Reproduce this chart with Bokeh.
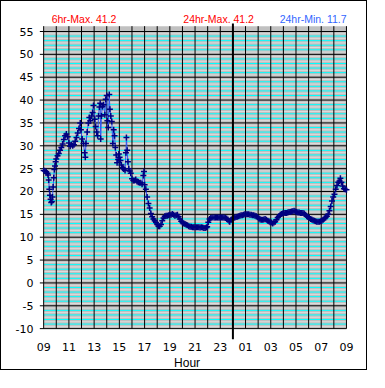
from bokeh.plotting import figure
from bokeh.models import Range1d
from bokeh.core.properties import value
from bokeh.embed import file_html
from bokeh.resources import INLINE

# hours after 09:00
hours = [0.00, 0.10, 0.20, 0.30, 0.35, 0.40, 0.45, 0.50, 0.55, 0.60, 0.65, 0.70, 0.75, 0.80, 0.85, 0.90, 0.95,
         1.00, 1.10, 1.20, 1.30, 1.40, 1.50, 1.60, 1.70, 1.80, 1.90, 2.00, 2.10, 2.20, 2.30, 2.40, 2.50, 2.60,
         2.70, 2.80, 2.90, 2.95, 3.05, 3.15, 3.25, 3.30, 3.35, 3.45, 3.55, 3.62, 3.70, 3.80, 3.88, 3.95, 4.05,
         4.12, 4.20, 4.28, 4.35, 4.42, 4.48, 4.52, 4.58, 4.65, 4.75, 4.85, 4.92, 5.00, 5.05, 5.12, 5.20, 5.25,
         5.32, 5.40, 5.48, 5.55, 5.62, 5.68, 5.75, 5.82, 5.90, 5.96, 6.02, 6.09, 6.16, 6.25, 6.35, 6.45, 6.52,
         6.56, 6.62, 6.68, 6.75, 6.82, 6.90, 7.00, 7.10, 7.20, 7.30, 7.40, 7.50, 7.60, 7.70, 7.80, 7.90, 7.95,
         8.00, 8.10, 8.20, 8.30, 8.40, 8.50, 8.60, 8.70, 8.80, 8.90, 9.00, 9.10, 9.20, 9.30, 9.40, 9.50, 9.60,
         9.70, 9.80, 9.90, 10.00, 10.10, 10.20, 10.30, 10.40, 10.50, 10.60, 10.70, 10.80, 10.90, 11.00, 11.10,
         11.20, 11.30, 11.40, 11.50, 11.60, 11.70, 11.80, 11.90, 12.00, 12.10, 12.20, 12.30, 12.40, 12.50,
         12.60, 12.70, 12.80, 12.90, 12.96, 13.05, 13.15, 13.25, 13.35, 13.50, 13.60, 13.70, 13.80, 13.90,
         14.00, 14.10, 14.20, 14.30, 14.40, 14.50, 14.60, 14.70, 14.75, 14.85, 14.95, 15.05, 15.15, 15.25,
         15.35, 15.45, 15.55, 15.65, 15.75, 15.85, 15.95, 16.05, 16.15, 16.25, 16.35, 16.45, 16.55, 16.65,
         16.75, 16.85, 16.95, 17.05, 17.15, 17.25, 17.35, 17.45, 17.55, 17.65, 17.75, 17.85, 17.95, 18.05,
         18.15, 18.25, 18.35, 18.45, 18.55, 18.65, 18.75, 18.85, 18.95, 19.05, 19.15, 19.25, 19.35, 19.45,
         19.55, 19.65, 19.75, 19.85, 19.95, 20.05, 20.15, 20.25, 20.35, 20.45, 20.55, 20.65, 20.75, 20.85,
         20.95, 21.05, 21.15, 21.25, 21.35, 21.45, 21.55, 21.65, 21.75, 21.85, 21.95, 22.05, 22.15, 22.25,
         22.35, 22.45, 22.55, 22.65, 22.75, 22.85, 22.95, 23.05, 23.15, 23.25, 23.35, 23.45, 23.52, 23.60,
         23.70, 23.80, 23.90, 24.00]

temps = [24.6, 24.5, 24.3, 24.0, 23.6, 22.5, 20.5, 19.2, 18.3, 17.6, 17.8, 18.8, 21.0, 23.0, 24.8, 25.6, 26.5,
         27.1, 27.8, 28.3, 29.0, 29.6, 30.4, 31.4, 32.2, 32.6, 32.0, 30.6, 29.9, 30.3, 30.0, 30.2, 31.0, 31.8,
         32.8, 33.8, 35.0, 33.5, 31.5, 30.5, 28.5, 27.5, 30.5, 33.0, 35.0, 36.2, 35.5, 36.5, 37.3, 38.8, 35.8,
         34.2, 33.0, 32.2, 36.5, 38.5, 39.3, 31.5, 36.5, 38.6, 39.0, 36.8, 40.2, 41.0, 35.5, 34.0, 41.2, 38.0,
         36.5, 35.3, 30.5, 33.5, 32.2, 29.6, 28.0, 26.3, 27.0, 28.2, 27.5, 26.8, 25.8, 25.2, 24.9, 24.6, 28.5,
         31.8, 29.0, 26.5, 25.0, 24.5, 24.0, 22.8, 22.4, 22.4, 22.6, 22.2, 22.0, 21.9, 21.9, 21.6, 23.5, 24.4,
         21.5, 20.5, 18.8, 17.4, 16.4, 15.2, 14.5, 14.0, 13.6, 13.2, 12.8, 12.4, 12.4, 12.8, 13.6, 14.2, 14.6,
         14.7, 14.7, 14.8, 14.9, 14.9, 15.1, 14.9, 14.7, 14.8, 14.9, 14.5, 14.0, 13.5, 13.2, 13.0,
         12.9, 12.7, 12.6, 12.4, 12.3, 12.3, 12.2, 12.2, 12.2, 12.2, 12.2, 12.2, 12.1, 12.2,
         12.1, 12.0, 12.0, 12.1, 12.3, 13.3, 14.0, 14.2, 14.3, 14.3, 14.3, 14.3, 14.3, 14.3,
         14.3, 14.3, 14.3, 14.3, 14.2, 14.1, 13.9, 13.5, 13.4, 13.8, 14.0, 14.2, 14.3, 14.4,
         14.5, 14.6, 14.7, 14.8, 14.8, 14.9, 15.0, 15.0, 15.0, 15.0, 14.9, 14.9, 14.8, 14.8,
         14.7, 14.6, 14.4, 14.1, 13.9, 13.8, 13.8, 13.9, 14.0, 13.8, 13.6, 13.5, 13.3, 13.2,
         13.0, 13.2, 13.4, 13.8, 14.3, 14.6, 14.9, 15.1, 15.2, 15.3, 15.3, 15.3, 15.4, 15.5,
         15.5, 15.6, 15.7, 15.8, 15.6, 15.5, 15.4, 15.4, 15.3, 15.3, 15.3, 15.2, 14.9, 14.6,
         14.4, 14.2, 14.0, 13.9, 13.7, 13.6, 13.5, 13.4, 13.4, 13.4, 13.5, 13.6, 13.8, 14.1,
         14.3, 14.6, 15.0, 15.8, 16.7, 17.9, 18.8, 19.4, 20.5, 21.3, 22.0, 22.3, 22.9, 22.0,
         21.2, 20.6, 20.5, 20.4]

x_tick_pos = [0, 2, 4, 6, 8, 10, 12, 14, 16, 18, 20, 22, 24]
x_tick_labels = ["09", "11", "13", "15", "17", "19", "21", "23", "01", "03", "05", "07", "09"]
y_ticks = [-10, -5, 0, 5, 10, 15, 20, 25, 30, 35, 40, 45, 50, 55]
y_tick_labels = [str(v) for v in y_ticks]
title_texts = ["6hr-Max. 41.2", "24hr-Max. 41.2", "24hr-Min. 11.7"]
title_colors = ["#ff0000", "#ff0000", "#3366ff"]
x_label = "Hour"
midnight_hour = 15

# layout constants (data units); the frame covers the whole canvas
X_LO, X_HI = 0, 24
VIEW_X = (-3.342, 25.747)
VIEW_Y = (-19.376, 61.563)
MID_LO, MID_HI = -12.34, 56.74
GRAY_TOP = 56.17
TICK_LEN = 0.304
YLABEL_X = -0.813
TITLE_Y = 57.73
TICKLABEL_Y = -13.92
XLABEL_Y = -17.55
title_x = [3.2, 13.87, 21.36]
xlabel_x = 11.37

p = figure(width=367, height=370, x_range=Range1d(*VIEW_X), y_range=Range1d(*VIEW_Y),
           output_backend="svg", toolbar_location=None, x_axis_location=None, y_axis_location=None,
           min_border=0)
p.styles = {"border": "1px solid black"}
p.background_fill_color = "white"
p.border_fill_color = "white"
p.outline_line_color = None
p.xgrid.visible = False
p.ygrid.visible = False

ymin, ymax = y_ticks[0], y_ticks[-1]
p.quad(left=X_LO, right=X_HI, bottom=ymin, top=GRAY_TOP, fill_color="#c0c0c0", line_color=None)

half_lines = [v + 0.5 for v in range(ymin, ymax)]
cyan_lines = [v for v in range(ymin, ymax + 1) if v % 5 != 0]
n = len(half_lines)
p.segment(x0=[X_LO] * n, x1=[X_HI] * n, y0=half_lines, y1=half_lines, line_color="#dcdcdc", line_width=1)
n = len(cyan_lines)
p.segment(x0=[X_LO] * n, x1=[X_HI] * n, y0=cyan_lines, y1=cyan_lines, line_color="#00ffff", line_width=1)
n = len(y_ticks)
p.segment(x0=[X_LO - TICK_LEN] * n, x1=[X_HI] * n, y0=y_ticks, y1=y_ticks, line_color="black", line_width=1)
vx = list(range(X_LO, X_HI + 1))
n = len(vx)
p.segment(x0=vx, x1=vx, y0=[ymin] * n, y1=[GRAY_TOP] * n, line_color="black", line_width=1)

p.line(hours, temps, line_color="#3355ee", line_width=1)
p.scatter(hours, temps, marker="cross", size=6, line_color="#000080", line_width=1.5)

p.segment(x0=[midnight_hour], x1=[midnight_hour], y0=[MID_LO], y1=[MID_HI], line_color="black", line_width=2)

# y tick labels
p.text(x=[YLABEL_X] * len(y_ticks), y=y_ticks, text=y_tick_labels, text_align="right",
       text_baseline="middle", text_font=value("DejaVu Sans"), text_font_size="11px", text_color="black")

# x tick labels
p.text(x=x_tick_pos, y=[TICKLABEL_Y] * len(x_tick_pos), text=x_tick_labels, text_align="center",
       text_baseline="alphabetic", text_font=value("DejaVu Sans"), text_font_size="11px", text_color="black")

# header texts
p.text(x=title_x, y=[TITLE_Y] * 3, text=title_texts, text_color=title_colors, text_align="center",
       text_baseline="alphabetic", text_font=value("Liberation Sans"), text_font_size="10.5px")

# axis title
p.text(x=[xlabel_x], y=[XLABEL_Y], text=[x_label], text_align="center", text_baseline="alphabetic",
       text_font=value("Liberation Sans"), text_font_size="12px", text_color="black")

open("out.html", "w").write(file_html(p, INLINE))
